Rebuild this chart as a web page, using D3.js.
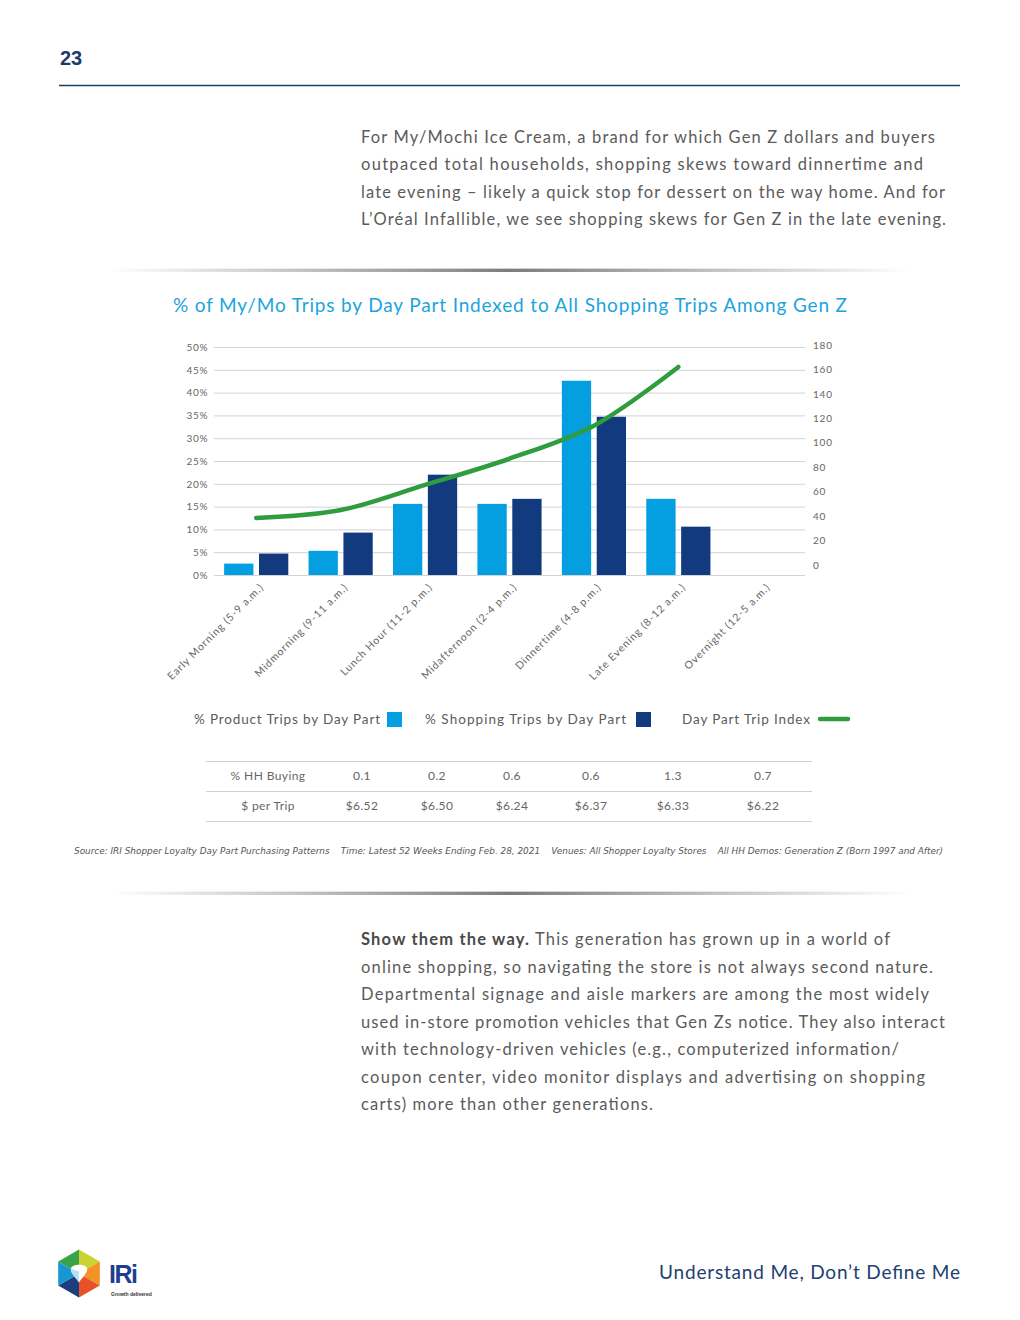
<!DOCTYPE html>
<html>
<head>
<meta charset="utf-8">
<script src="https://cdn.jsdelivr.net/npm/d3@7"></script>
<style>
  html, body { margin: 0; padding: 0; background: #ffffff; }
  svg { display: block; }
</style>
</head>
<body>
<svg id="page" width="1020" height="1320"></svg>
<script>
// ---------------- DATA ----------------
const categories = [
  "Early Morning (5-9 a.m.)",
  "Midmorning (9-11 a.m.)",
  "Lunch Hour (11-2 p.m.)",
  "Midafternoon (2-4 p.m.)",
  "Dinnertime (4-8 p.m.)",
  "Late Evening (8-12 a.m.)",
  "Overnight (12-5 a.m.)"
];
const productTrips  = [2.5, 5.3, 15.6, 15.6, 42.6, 16.7, 0];   // % Product Trips by Day Part
const shoppingTrips = [4.7, 9.3, 22.0, 16.7, 34.7, 10.6, 0];   // % Shopping Trips by Day Part
const tripIndex     = [38.5, 45, 65.5, 87, 114, 162];          // Day Part Trip Index (first 6 day parts)
const leftTicks  = [0, 5, 10, 15, 20, 25, 30, 35, 40, 45, 50];
const rightTicks = [0, 20, 40, 60, 80, 100, 120, 140, 160, 180];
const seriesNames = ["% Product Trips by Day Part", "% Shopping Trips by Day Part", "Day Part Trip Index"];
const tableRowLabels = ["% HH Buying", "$ per Trip"];
const hhBuying = ["0.1", "0.2", "0.6", "0.6", "1.3", "0.7"];
const perTrip  = ["$6.52", "$6.50", "$6.24", "$6.37", "$6.33", "$6.22"];

const chartTitle = "% of My/Mo Trips by Day Part Indexed to All Shopping Trips Among Gen Z";
const para1 = [
  "For My/Mochi Ice Cream, a brand for which Gen Z dollars and buyers",
  "outpaced total households, shopping skews toward dinnertime and",
  "late evening \u2013 likely a quick stop for dessert on the way home. And for",
  "L\u2019Or\u00e9al Infallible, we see shopping skews for Gen Z in the late evening."
];
const para2Bold = "Show them the way.";
const para2 = [
  " This generation has grown up in a world of",
  "online shopping, so navigating the store is not always second nature.",
  "Departmental signage and aisle markers are among the most widely",
  "used in-store promotion vehicles that Gen Zs notice. They also interact",
  "with technology-driven vehicles (e.g., computerized information/",
  "coupon center, video monitor displays and advertising on shopping",
  "carts) more than other generations."
];
const sourceText = "Source: IRI Shopper Loyalty Day Part Purchasing Patterns    Time: Latest 52 Weeks Ending Feb. 28, 2021    Venues: All Shopper Loyalty Stores    All HH Demos: Generation Z (Born 1997 and After)";

// ---------------- STYLE ----------------
const C_LIGHT = "#049fe0", C_DARK = "#113b7e", C_GREEN = "#2f9d3e";
const C_TEXT = "#5b5b5b", C_AXIS = "#666666", C_NAVY = "#1c3b6c";
const FONT = "Lato, 'Open Sans', 'DejaVu Sans', sans-serif";

const svg = d3.select("#page");
const defs = svg.append("defs");
const grad = defs.append("linearGradient").attr("id", "sep").attr("x1", "0").attr("x2", "1").attr("y1", "0").attr("y2", "0");
grad.append("stop").attr("offset", "0%").attr("stop-color", "#777").attr("stop-opacity", 0);
grad.append("stop").attr("offset", "50%").attr("stop-color", "#666").attr("stop-opacity", 0.85);
grad.append("stop").attr("offset", "100%").attr("stop-color", "#777").attr("stop-opacity", 0);

// ---------------- HEADER ----------------
svg.append("text").attr("x", 60).attr("y", 65).text("23")
  .attr("font-family", "'Liberation Sans', Arial, sans-serif").attr("font-weight", "bold")
  .attr("font-size", 20).attr("fill", C_NAVY);
svg.append("line").attr("x1", 59).attr("x2", 960).attr("y1", 85.5).attr("y2", 85.5)
  .attr("stroke", "#1f3f5e").attr("stroke-width", 1.4);

// ---------------- PARAGRAPH 1 ----------------
const p1Widths = [574, 562, 584, 585];
para1.forEach((t, i) => {
  svg.append("text").attr("x", 361).attr("y", 143 + i * 27.4).text(t)
    .attr("font-family", FONT).attr("font-size", 16.5).attr("fill", C_TEXT)
    .attr("textLength", p1Widths[i]).attr("lengthAdjust", "spacing");
});

// ---------------- SEPARATORS ----------------
function separator(y) {
  svg.append("rect").attr("x", 110).attr("y", y).attr("width", 800).attr("height", 3).attr("fill", "url(#sep)");
  svg.append("rect").attr("x", 110).attr("y", y - 1).attr("width", 800).attr("height", 1.5).attr("fill", "url(#sep)").attr("opacity", 0.35);
}
separator(269);
separator(892);

// ---------------- CHART TITLE ----------------
svg.append("text").attr("x", 510).attr("y", 312).attr("text-anchor", "middle").text(chartTitle)
  .attr("font-family", FONT).attr("font-size", 19).attr("fill", "#1ca4dd")
  .attr("textLength", 674).attr("lengthAdjust", "spacing");

// ---------------- CHART ----------------
const x = d3.scaleBand().domain(categories).range([214, 805]).paddingInner(0.24).paddingOuter(0.12);
const x1 = d3.scaleBand().domain([0, 1]).range([0, x.bandwidth()]).paddingInner(0.16);
const yL = d3.scaleLinear().domain([0, 50]).range([575, 347]);
const yR = d3.scaleLinear().domain([0, 180]).range([565, 345]);

// gridlines
const gridAxis = d3.axisLeft(yL).tickValues(leftTicks).tickSize(-(805 - 214)).tickFormat("");
const gGrid = svg.append("g").attr("transform", "translate(214,0)").call(gridAxis);
gGrid.select(".domain").remove();
gGrid.selectAll(".tick line").attr("stroke", "#d3d3d3").attr("stroke-width", 1);

// left axis labels
const leftAxis = d3.axisLeft(yL).tickValues(leftTicks).tickSize(0).tickPadding(6).tickFormat(d => d + "%");
const gL = svg.append("g").attr("transform", "translate(214,0)").call(leftAxis);
gL.select(".domain").remove();
gL.selectAll("text").attr("font-family", FONT).attr("font-size", 10).attr("fill", C_AXIS).attr("letter-spacing", 0.6);

// right axis labels
const rightAxis = d3.axisRight(yR).tickValues(rightTicks).tickSize(0).tickPadding(8);
const gR = svg.append("g").attr("transform", "translate(805,0)").call(rightAxis);
gR.select(".domain").remove();
gR.selectAll("text").attr("font-family", FONT).attr("font-size", 10).attr("fill", C_AXIS).attr("letter-spacing", 0.8);

// bars
const groups = svg.append("g").selectAll("g").data(categories).join("g")
  .attr("transform", d => `translate(${x(d)},0)`);
groups.append("rect")
  .attr("x", x1(0)).attr("width", x1.bandwidth())
  .attr("y", (d, i) => yL(productTrips[i])).attr("height", (d, i) => yL(0) - yL(productTrips[i]))
  .attr("fill", C_LIGHT);
groups.append("rect")
  .attr("x", x1(1)).attr("width", x1.bandwidth())
  .attr("y", (d, i) => yL(shoppingTrips[i])).attr("height", (d, i) => yL(0) - yL(shoppingTrips[i]))
  .attr("fill", C_DARK);

// line
const line = d3.line()
  .x((d, i) => x(categories[i]) + x.bandwidth() / 2)
  .y(d => yR(d))
  .curve(d3.curveCatmullRom.alpha(0.5));
svg.append("path").datum(tripIndex).attr("d", line)
  .attr("fill", "none").attr("stroke", C_GREEN).attr("stroke-width", 4.5)
  .attr("stroke-linecap", "round").attr("stroke-linejoin", "round");

// x axis labels (rotated)
const xAxis = d3.axisBottom(x).tickSize(0).tickPadding(0);
const gX = svg.append("g").attr("transform", "translate(0,575)").call(xAxis);
gX.select(".domain").remove();
gX.selectAll(".tick text")
  .attr("font-family", FONT).attr("font-size", 10.5).attr("fill", C_AXIS).attr("letter-spacing", 0.85)
  .attr("text-anchor", "end").attr("dy", 0)
  .attr("transform", "translate(8,13) rotate(-45)");

// ---------------- LEGEND ----------------
const legY = 724;
const leg = svg.append("g").attr("font-family", FONT).attr("font-size", 13.5).attr("fill", C_TEXT);
leg.append("text").attr("x", 194).attr("y", legY).text(seriesNames[0]).attr("textLength", 186).attr("lengthAdjust", "spacing");
leg.append("rect").attr("x", 387).attr("y", 712).attr("width", 15).attr("height", 15).attr("fill", C_LIGHT);
leg.append("text").attr("x", 425).attr("y", legY).text(seriesNames[1]).attr("textLength", 201).attr("lengthAdjust", "spacing");
leg.append("rect").attr("x", 636).attr("y", 712).attr("width", 15).attr("height", 15).attr("fill", C_DARK);
leg.append("text").attr("x", 682).attr("y", legY).text(seriesNames[2]).attr("textLength", 128).attr("lengthAdjust", "spacing");
leg.append("line").attr("x1", 820).attr("x2", 848).attr("y1", 719).attr("y2", 719)
  .attr("stroke", C_GREEN).attr("stroke-width", 4.5).attr("stroke-linecap", "round");

// ---------------- TABLE ----------------
const tableCols = [362, 437, 512, 591, 673, 763];
[761, 791, 821].forEach(y => {
  svg.append("line").attr("x1", 206).attr("x2", 812).attr("y1", y + 0.5).attr("y2", y + 0.5)
    .attr("stroke", "#d0d0d0").attr("stroke-width", 1);
});
const tbl = svg.append("g").attr("font-family", FONT).attr("font-size", 12).attr("fill", C_AXIS).attr("text-anchor", "middle").attr("letter-spacing", 0.4);
[hhBuying, perTrip].forEach((row, r) => {
  const y = 780 + r * 30;
  tbl.append("text").attr("x", 268).attr("y", y).text(tableRowLabels[r]);
  row.forEach((v, i) => tbl.append("text").attr("x", tableCols[i]).attr("y", y).text(v));
});

// ---------------- SOURCE ----------------
svg.append("text").attr("x", 74).attr("y", 853.5).text(sourceText)
  .attr("font-family", "'Liberation Sans Narrow', 'DejaVu Sans Condensed', 'Liberation Sans', sans-serif")
  .attr("font-style", "italic").attr("font-size", 9.5).attr("fill", "#555")
  .style("white-space", "pre")
  .attr("textLength", 869).attr("lengthAdjust", "spacingAndGlyphs");

// ---------------- PARAGRAPH 2 ----------------
const p2Widths = [529, 572, 568, 584, 538, 564, 292];
para2.forEach((t, i) => {
  const tx = svg.append("text").attr("x", 361).attr("y", 945 + i * 27.5)
    .attr("font-family", FONT).attr("font-size", 16.5).attr("fill", C_TEXT)
    .attr("textLength", p2Widths[i]).attr("lengthAdjust", "spacing")
    .style("white-space", "pre");
  if (i === 0) {
    tx.append("tspan").attr("font-weight", "bold").attr("fill", "#4a4a4a").text(para2Bold);
    tx.append("tspan").text(t);
  } else {
    tx.text(t);
  }
});

// ---------------- FOOTER ----------------
svg.append("text").attr("x", 960).attr("y", 1279).attr("text-anchor", "end")
  .text("Understand Me, Don\u2019t Define Me")
  .attr("font-family", FONT).attr("font-size", 19).attr("fill", "#22406f")
  .attr("textLength", 301).attr("lengthAdjust", "spacing");

// logo
const cx = 79, cy = 1273.5, R = 24;
const hexPts = d3.range(6).map(k => {
  const a = -Math.PI / 2 + k * Math.PI / 3;
  return [cx + R * Math.cos(a), cy + R * Math.sin(a)];
});
const segColors = ["#c9d432", "#f29323", "#e8522a", "#1d3d7c", "#1b96d4", "#3aa346"];
const logo = svg.append("g");
hexPts.forEach((p, k) => {
  const q = hexPts[(k + 1) % 6];
  logo.append("path").attr("d", `M${cx},${cy}L${p[0]},${p[1]}L${q[0]},${q[1]}Z`).attr("fill", segColors[k]);
});
logo.append("path")
  .attr("d", `M${cx},${cy + 9} C${cx - 4},${cy + 3} ${cx - 9},${cy - 1} ${cx - 8},${cy - 5} C${cx - 7},${cy - 10} ${cx + 7},${cy - 10} ${cx + 8},${cy - 5} C${cx + 9},${cy - 1} ${cx + 4},${cy + 3} ${cx},${cy + 9}Z`)
  .attr("fill", "#ffffff");
logo.append("path")
  .attr("d", `M${cx - 8},${cy - 5} C${cx - 9},${cy - 1} ${cx - 4},${cy + 3} ${cx},${cy + 9} L${cx},${cy - 2}Z`)
  .attr("fill", "#b9dff4");
svg.append("text").attr("x", 109).attr("y", 1283).text("IRi")
  .attr("font-family", "'Liberation Sans', Arial, sans-serif").attr("font-weight", "bold")
  .attr("font-size", 25).attr("fill", "#1e3f8f").attr("letter-spacing", -1.5);
svg.append("text").attr("x", 111).attr("y", 1295.5).text("Growth delivered")
  .attr("font-family", "'Liberation Sans', Arial, sans-serif").attr("font-weight", "bold")
  .attr("font-size", 5).attr("fill", "#333");
</script>
</body>
</html>
